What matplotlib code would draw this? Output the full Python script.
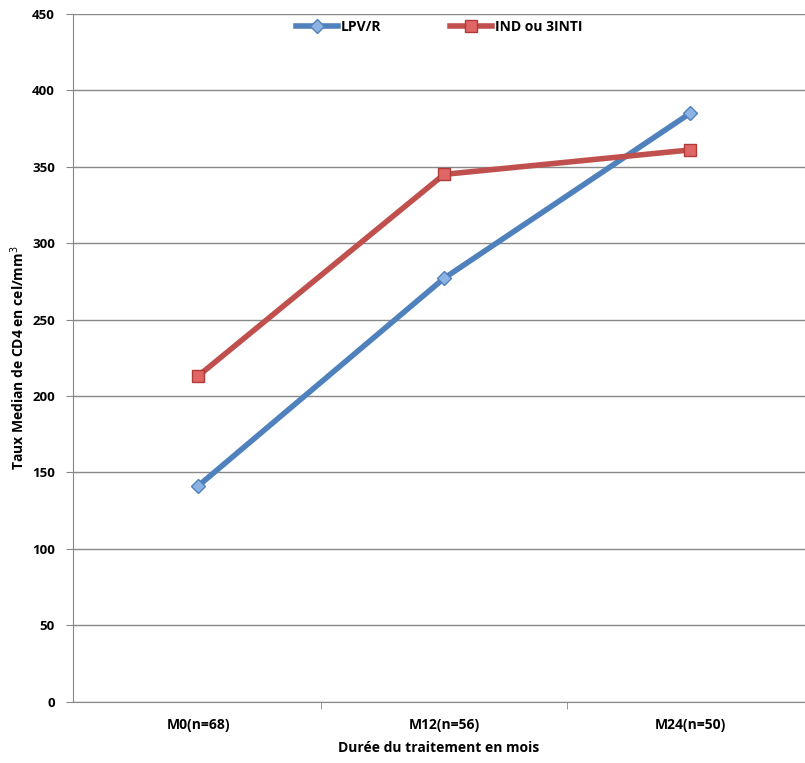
import matplotlib.pyplot as plt

categories = ["M0(n=68)", "M12(n=56)", "M24(n=50)"]
lpv_r = [141, 277, 385]
ind_3inti = [213, 345, 361]
y_ticks = [0, 50, 100, 150, 200, 250, 300, 350, 400, 450]

plt.rcParams['font.family'] = ['Open Sans', 'DejaVu Sans']

fig = plt.figure(figsize=(8.05, 7.63), dpi=100)
ax = fig.add_axes([0.0907, 0.0806, 0.9093, 0.9011])

x = list(range(len(categories)))
ax.plot(x, lpv_r, color='#4F81BD', lw=4, marker='D', markersize=7,
        markerfacecolor='#8DB3E2', markeredgecolor='#4F81BD', markeredgewidth=1,
        label='LPV/R', zorder=3)
ax.plot(x, ind_3inti, color='#C0504D', lw=4, marker='s', markersize=9,
        markerfacecolor='#E06666', markeredgecolor='#B03A37', markeredgewidth=1,
        label='IND ou 3INTI', zorder=3)

# categories are slightly cut at the right edge, as in the original
ax.set_xlim(-0.508, 2.467)
ax.set_ylim(0, 450)
ax.set_yticks(y_ticks)
ax.set_yticklabels([str(t) for t in y_ticks], fontweight='bold', fontsize=9.5)
ax.set_xticks(x)
ax.set_xticklabels(categories, fontweight='bold', fontsize=10)
ax.set_xticks([0.5, 1.5], minor=True)
ax.tick_params(axis='x', which='major', length=0, pad=12)
ax.tick_params(axis='x', which='minor', length=5, color='#888888')
ax.tick_params(axis='y', length=5, color='#888888', pad=8)

ax.grid(axis='y', color='#888888', lw=1)
ax.set_axisbelow(True)
for s in ['top', 'right']:
    ax.spines[s].set_visible(False)
ax.spines['left'].set_color('#888888')
ax.spines['bottom'].set_color('#888888')

ax.set_xlabel("Durée du traitement en mois", fontweight='bold', fontsize=10, labelpad=6)
ax.set_ylabel("Taux Median de CD4 en cel/mm$^3$", fontweight='bold', fontsize=10, labelpad=4)

ax.legend(loc='upper center', bbox_to_anchor=(0.5, 1.01), ncol=2, frameon=False,
          prop={'weight': 'bold', 'size': 10}, handlelength=3, columnspacing=5,
          handletextpad=0.2)

fig.savefig('out.png', dpi=100)
